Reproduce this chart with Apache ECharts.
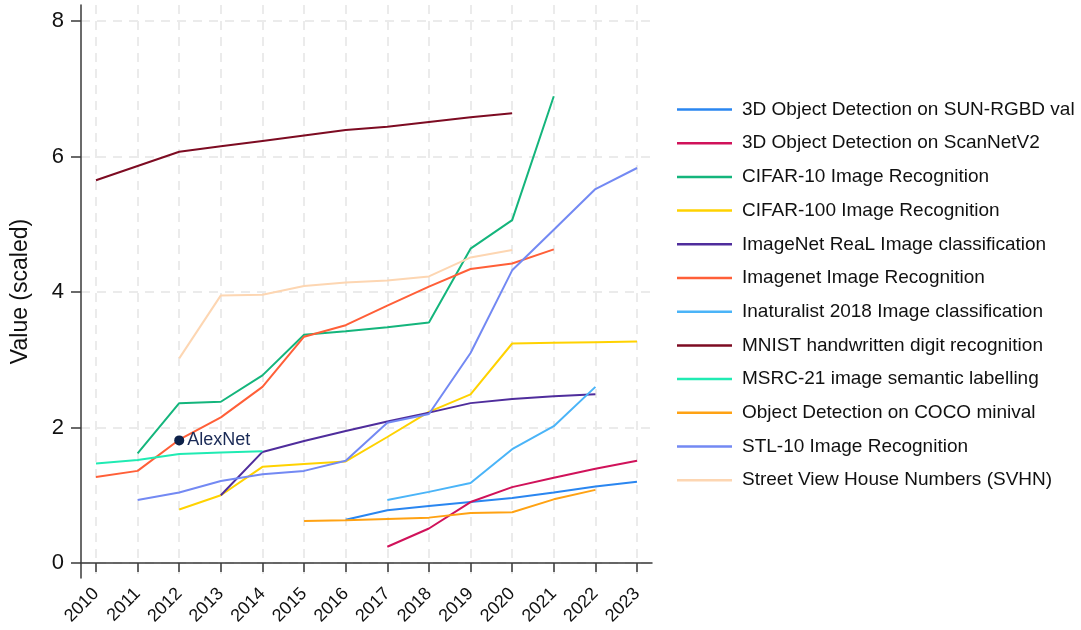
<!DOCTYPE html>
<html><head><meta charset="utf-8">
<script src="https://cdn.jsdelivr.net/npm/echarts@6/dist/echarts.min.js"></script>
<style>html,body{margin:0;padding:0;background:#fff}#c{width:1081px;height:630px}</style>
</head><body><div id="c"></div>
<script>
const years = [2010,2011,2012,2013,2014,2015,2016,2017,2018,2019,2020,2021,2022,2023];
const yTicks = [0,2,4,6,8];
const names = [
 '3D Object Detection on SUN-RGBD val',
 '3D Object Detection on ScanNetV2',
 'CIFAR-10 Image Recognition',
 'CIFAR-100 Image Recognition',
 'ImageNet ReaL Image classification',
 'Imagenet Image Recognition',
 'Inaturalist 2018 Image classification',
 'MNIST handwritten digit recognition',
 'MSRC-21 image semantic labelling',
 'Object Detection on COCO minival',
 'STL-10 Image Recognition',
 'Street View House Numbers (SVHN)'
];
const colors = ['#2a86f0','#d0125a','#14b57c','#ffd200','#4f2d9c','#ff5f38','#4ab4f8','#7d0b22','#20ebb3','#ffa213','#7389f3','#fdd6b2'];
// values per year 2010..2023 (null = no data)
const sunRgbd  = [null,null,null,null,null,null,0.64,0.78,0.84,0.90,0.96,1.04,1.13,1.20];
const scanNet  = [null,null,null,null,null,null,null,0.24,0.51,0.90,1.12,1.26,1.39,1.51];
const cifar10  = [null,1.62,2.36,2.38,2.77,3.37,3.42,3.48,3.55,4.64,5.06,6.89,null,null];
const cifar100 = [null,null,0.79,1.00,1.42,1.46,1.50,1.86,2.23,2.49,3.24,3.25,3.26,3.27];
const imReal   = [null,null,null,1.00,1.64,1.80,1.95,2.09,2.22,2.36,2.42,2.46,2.49,null];
const imagenet = [1.27,1.36,1.82,2.15,2.60,3.34,3.51,3.80,4.08,4.34,4.42,4.63,null,null];
const inat     = [null,null,null,null,null,null,null,0.93,1.05,1.18,1.68,2.02,2.60,null];
const mnist    = [5.65,5.86,6.07,6.15,6.23,6.31,6.39,6.44,6.51,6.58,6.64,null,null,null];
const msrc     = [1.47,1.52,1.61,1.63,1.65,null,null,null,null,null,null,null,null,null];
const coco     = [null,null,null,null,null,0.62,0.63,0.65,0.67,0.74,0.75,0.94,1.08,null];
const stl10    = [null,0.93,1.04,1.21,1.31,1.36,1.51,2.07,2.20,3.10,4.32,4.92,5.52,5.83];
const svhn     = [null,null,3.02,3.95,3.96,4.09,4.14,4.17,4.23,4.51,4.62,null,null,null];
const seriesValues = [sunRgbd,scanNet,cifar10,cifar100,imReal,imagenet,inat,mnist,msrc,coco,stl10,svhn];
const annotation = {name:'AlexNet', year:2012, value:1.81};

const font = '"Liberation Sans", Arial, sans-serif';
const series = names.map((n,i)=>({
  name:n, type:'line', symbol:'none', showSymbol:false, connectNulls:false,
  lineStyle:{width:2,color:colors[i]}, itemStyle:{color:colors[i]},
  data: years.map((y,j)=>[y, seriesValues[i][j]]).filter(d=>d[1]!==null),
  z:2
}));
series.push({
  type:'scatter', name:'annot', symbolSize:10,
  itemStyle:{color:'#0d2149', opacity:1},
  label:{show:true, position:'right', formatter:annotation.name, color:'#1a2a56', opacity:1, fontSize:18, fontFamily:font, distance:3},
  emphasis:{disabled:true},
  data:[[annotation.year, annotation.value]], z:5
});
const chart = echarts.init(document.getElementById('c'));
chart.setOption({
  animation:false,
  backgroundColor:'#fff',
  grid:{left:81,right:429,top:5,bottom:52,containLabel:false},
  xAxis:{type:'value', min:2009.64, max:2023.36,
    axisLine:{show:true,lineStyle:{color:'#3a3a3a',width:1.5}},
    axisTick:{show:true,length:9,lineStyle:{color:'#3a3a3a',width:1.5},customValues:years},
    axisLabel:{customValues:years, rotate:45, fontSize:18, color:'#111', fontFamily:font, margin:13, formatter:v=>String(v)},
    splitLine:{show:true,lineStyle:{color:'#ebebeb',type:[9,7],width:2}}
  },
  yAxis:{type:'value', min:-0.221, max:8.236,
    name:'Value (scaled)', nameLocation:'middle', nameGap:49, nameRotate:90,
    nameTextStyle:{fontSize:23,color:'#111',fontFamily:font},
    axisLine:{show:true,lineStyle:{color:'#3a3a3a',width:1.5}},
    axisTick:{show:true,length:10,lineStyle:{color:'#3a3a3a',width:1.5},customValues:yTicks},
    axisLabel:{customValues:yTicks, fontSize:22, color:'#111', fontFamily:font, margin:17},
    splitLine:{show:true,lineStyle:{color:'#ebebeb',type:[9,7],width:2}}
  },
  legend:{data:names, orient:'vertical', left:672, top:95, icon:'rect', itemWidth:55, itemHeight:2.5, itemGap:14.7,
    textStyle:{fontSize:19,color:'#111',fontFamily:font,lineHeight:19,padding:[0,0,0,5]}},
  series:series
});
</script></body></html>
